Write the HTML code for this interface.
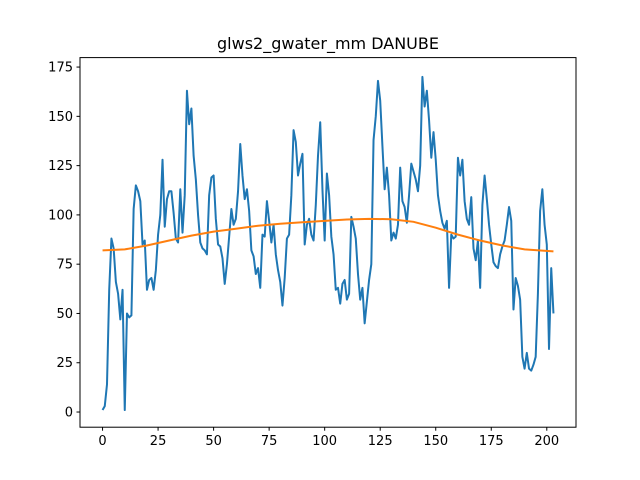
<!DOCTYPE html>
<html><head><meta charset="utf-8"><style>
body{margin:0;background:#fff;}
svg{display:block;font-family:"DejaVu Sans","Liberation Sans",sans-serif;}
</style></head><body>
<svg id="chart" width="640" height="480">
<rect width="640" height="480" fill="#fff"/>
<text x="328" y="49" text-anchor="middle" font-size="16">glws2_gwater_mm DANUBE</text>
<g id="plot"></g>
<rect x="80" y="57.6" width="496" height="369.6" fill="none" stroke="#000" stroke-width="1"/>
<g id="axes"></g>
</svg>
<script>
const seriesValues=[1,3,14,62,88,83,66,60,47,62,1,50,48,49,103,115,112,107,85,87,62,67,68,62,72,90,100,128,94,108,112,112,101,88,86,113,91,110,163,146,154,130,118,100,86,83,82,80,110,119,120,98,85,84,78,65,75,89,103,95,98,112,136,120,108,113,102,82,79,70,73,63,90,89,107,97,86,95,80,72,66,54,68,88,90,110,143,137,120,126,131,85,95,98,90,87,105,130,147,113,87,121,110,89,80,62,63,55,65,67,57,60,99,94,88,70,57,63,45,56,67,75,138,150,168,158,135,113,124,110,87,91,88,95,124,107,104,96,110,126,122,118,112,125,170,155,163,148,129,142,128,110,102,96,93,97,63,90,88,89,129,120,128,107,98,95,109,83,77,87,63,105,120,108,95,85,76,74,73,80,84,87,95,104,97,52,68,64,57,28,22,30,22,21,24,28,60,102,113,95,85,32,73,50];
const trendX=[0,10,20,30,40,50,60,70,80,90,100,110,120,130,140,150,160,170,180,190,203];
const trendValues=[82,82.5,84.5,87,89.5,91.5,93,94.5,95.5,96.3,97,97.7,98,97.8,96.5,93.5,90,87,84.5,82.5,81.5];
const xTicks=[0,25,50,75,100,125,150,175,200];
const yTicks=[0,25,50,75,100,125,150,175];
const L=80,R=576,T=57.6,B=427.2;
const xmin=-10.15,xmax=213.15,ymin=-7.7,ymax=179.8;
const sx=v=>L+(v-xmin)/(xmax-xmin)*(R-L);
const sy=v=>B-(v-ymin)/(ymax-ymin)*(B-T);
const NS="http://www.w3.org/2000/svg";
const plot=document.getElementById('plot'),axes=document.getElementById('axes');
let d=seriesValues.map((v,i)=>(i?'L':'M')+sx(i).toFixed(2)+','+sy(v).toFixed(2)).join('');
let p=document.createElementNS(NS,'path');
p.setAttribute('d',d);p.setAttribute('fill','none');p.setAttribute('stroke','#1f77b4');p.setAttribute('stroke-width','2');p.setAttribute('stroke-linejoin','round');


plot.appendChild(p);
d=trendX.map((x,i)=>(i?'L':'M')+sx(x).toFixed(2)+','+sy(trendValues[i]).toFixed(2)).join('');
p=document.createElementNS(NS,'path');
p.setAttribute('d',d);p.setAttribute('fill','none');p.setAttribute('stroke','#ff7f0e');p.setAttribute('stroke-width','2');


plot.appendChild(p);
xTicks.forEach(t=>{
 const x=sx(t);
 const l=document.createElementNS(NS,'line');
 l.setAttribute('x1',x);l.setAttribute('x2',x);l.setAttribute('y1',B);l.setAttribute('y2',B+3.5);l.setAttribute('stroke','#000');
 
 
 axes.appendChild(l);
 const tx=document.createElementNS(NS,'text');
 tx.setAttribute('x',x);tx.setAttribute('y',B+18);tx.setAttribute('text-anchor','middle');tx.setAttribute('font-size','13');
 tx.textContent=t;
 
 
 axes.appendChild(tx);
});
yTicks.forEach(t=>{
 const y=sy(t);
 const l=document.createElementNS(NS,'line');
 l.setAttribute('x1',L-3.5);l.setAttribute('x2',L);l.setAttribute('y1',y);l.setAttribute('y2',y);l.setAttribute('stroke','#000');
 
 
 axes.appendChild(l);
 const tx=document.createElementNS(NS,'text');
 tx.setAttribute('x',L-7);tx.setAttribute('y',y+4.5);tx.setAttribute('text-anchor','end');tx.setAttribute('font-size','13');
 tx.textContent=t;
 
 
 axes.appendChild(tx);
});
</script>
</body></html>
